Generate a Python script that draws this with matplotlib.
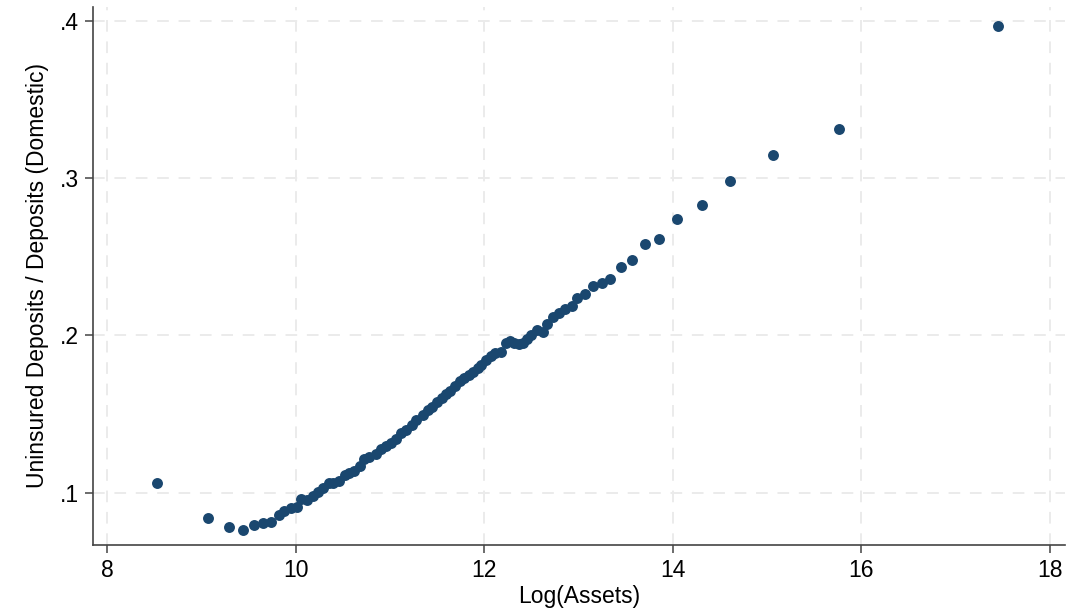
import matplotlib
matplotlib.use("Agg")
import matplotlib.pyplot as plt
from matplotlib.ticker import FixedLocator, FuncFormatter

plt.rcParams["font.family"] = ["Liberation Sans", "DejaVu Sans"]

# Binned means: log assets vs. uninsured share of domestic deposits
log_assets = [
    8.53, 9.07, 9.29, 9.44, 9.56, 9.65, 9.74, 9.82, 9.88, 9.95,
    10.01, 10.06, 10.12, 10.18, 10.24, 10.29, 10.35, 10.40, 10.46, 10.52,
    10.57, 10.62, 10.68, 10.73, 10.78, 10.85, 10.91, 10.96, 11.01, 11.07,
    11.12, 11.17, 11.23, 11.28, 11.35, 11.40, 11.45, 11.50, 11.55, 11.60,
    11.64, 11.69, 11.74, 11.79, 11.84, 11.88, 11.93, 11.97, 12.02, 12.07,
    12.12, 12.18, 12.23, 12.27, 12.32, 12.37, 12.41, 12.46, 12.50, 12.56,
    12.62, 12.67, 12.73, 12.79, 12.86, 12.93, 12.99, 13.07, 13.15, 13.25,
    13.34, 13.45, 13.57, 13.71, 13.86, 14.05, 14.31, 14.61, 15.06, 15.76,
    17.45,
]
uninsured_share = [
    0.1063, 0.0842, 0.0783, 0.0761, 0.0796, 0.0811, 0.0817, 0.0860, 0.0887, 0.0906,
    0.0913, 0.0958, 0.0955, 0.0983, 0.1006, 0.1034, 0.1064, 0.1062, 0.1076, 0.1112,
    0.1127, 0.1142, 0.1170, 0.1218, 0.1230, 0.1248, 0.1277, 0.1295, 0.1320, 0.1344,
    0.1378, 0.1401, 0.1432, 0.1463, 0.1495, 0.1527, 0.1545, 0.1580, 0.1605, 0.1628,
    0.1648, 0.1680, 0.1709, 0.1730, 0.1752, 0.1768, 0.1795, 0.1815, 0.1847, 0.1870,
    0.1888, 0.1898, 0.1950, 0.1962, 0.1955, 0.1945, 0.1954, 0.1975, 0.2000, 0.2036,
    0.2024, 0.2072, 0.2119, 0.2145, 0.2166, 0.2187, 0.2238, 0.2266, 0.2312, 0.2333,
    0.2357, 0.2438, 0.2480, 0.2580, 0.2611, 0.2739, 0.2828, 0.2981, 0.3146, 0.3312,
    0.3968,
]

x_ticks = [8, 10, 12, 14, 16, 18]
y_ticks = [0.1, 0.2, 0.3, 0.4]

fig = plt.figure(figsize=(10.69, 6.13), dpi=100)
ax = fig.add_axes([0.087, 0.111, 0.909, 0.878])

ax.scatter(log_assets, uninsured_share, s=62, color="#1a476f", linewidths=0, zorder=3)

ax.set_xlim(7.85, 18.16)
ax.set_ylim(0.0669, 0.4089)
ax.xaxis.set_major_locator(FixedLocator(x_ticks))
ax.yaxis.set_major_locator(FixedLocator(y_ticks))
# Stata-style labels without the leading zero
ax.yaxis.set_major_formatter(FuncFormatter(lambda v, _: f"{v:.1f}".lstrip("0")))

ax.grid(True, color="#ebebeb", linestyle=(0, (6, 5)), linewidth=1.4, zorder=0)
ax.set_axisbelow(True)

for side in ("top", "right"):
    ax.spines[side].set_visible(False)
for side in ("left", "bottom"):
    ax.spines[side].set_color("#444444")
    ax.spines[side].set_linewidth(1.2)

ax.tick_params(axis="both", direction="out", length=6, width=1.1,
               color="#444444", labelsize=16.5, pad=4)

ax.set_xlabel("Log(Assets)", fontsize=16.5, labelpad=2)
ax.set_ylabel("Uninsured Deposits / Deposits (Domestic)", fontsize=16.5, labelpad=8)

fig.savefig("out.png", dpi=100, facecolor="white")
